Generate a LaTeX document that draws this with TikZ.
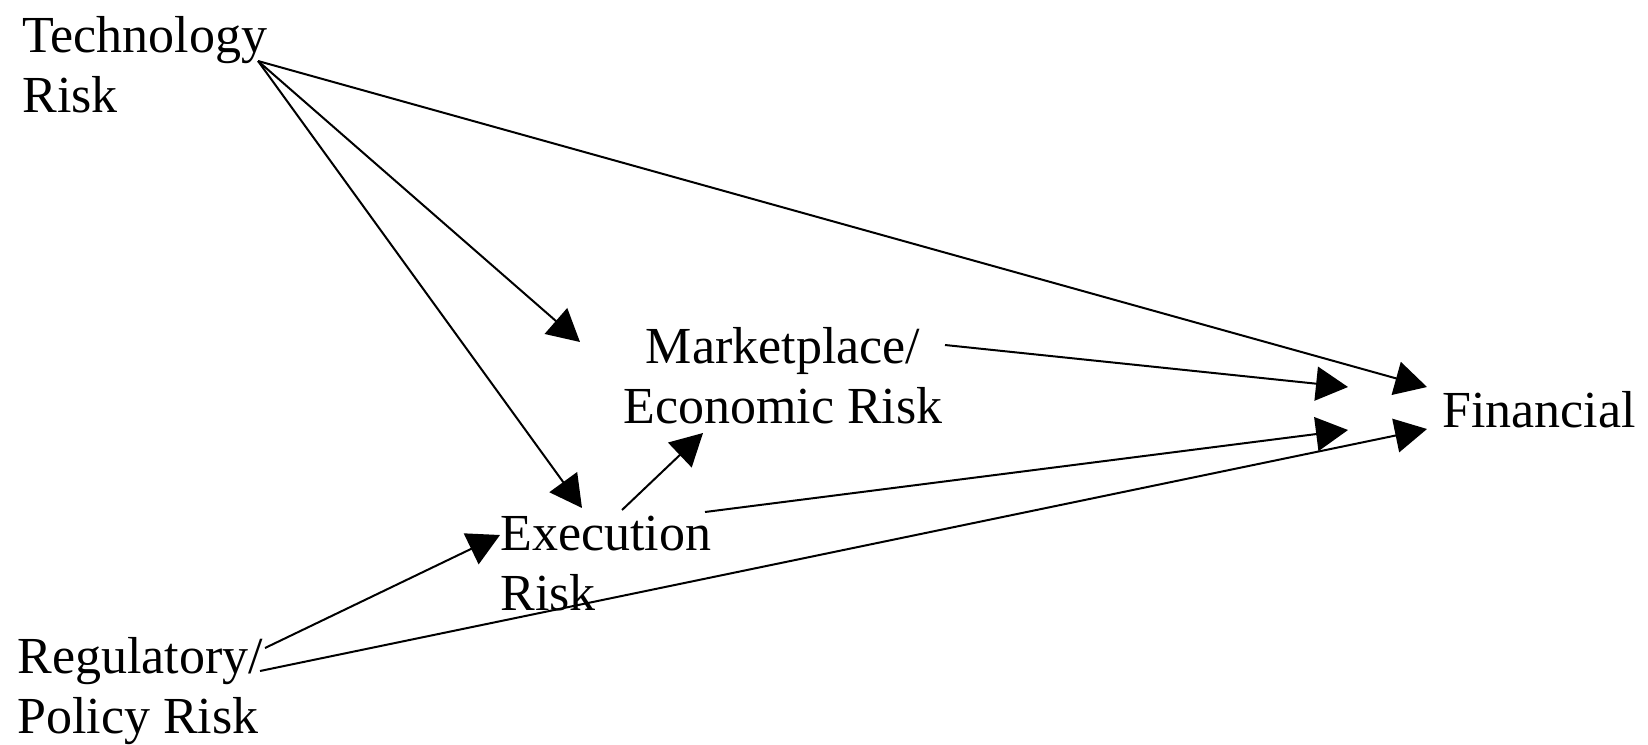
\documentclass[tikz,border=0pt]{standalone}
\usepackage{fontspec}
\setmainfont{Liberation Serif}
\usetikzlibrary{arrows.meta}
\tikzset{
  lbl/.style={inner sep=0pt, font=\fontsize{26pt}{30pt}\selectfont},
  arr/.style={line width=1pt, -{Triangle[length=16pt,width=17pt]}},
}
\begin{document}
\begin{tikzpicture}[x=0.5pt,y=-0.5pt]
\useasboundingbox (0,0) rectangle (1648,744);
% nodes
\node[lbl, anchor=base west] (tech) at (22,52) {\begin{tabular}[t]{@{}l@{}}Technology\\Risk\end{tabular}};
\node[lbl, anchor=base] (mkt) at (783,363) {\begin{tabular}[t]{@{}c@{}}Marketplace/\\Economic Risk\end{tabular}};
\node[lbl, anchor=base west] (fin) at (1442,427) {Financial};
\node[lbl, anchor=base west] (exe) at (500,550) {\begin{tabular}[t]{@{}l@{}}Execution\\Risk\end{tabular}};
\node[lbl, anchor=base west] (reg) at (17,673) {\begin{tabular}[t]{@{}l@{}}Regulatory/\\Policy Risk\end{tabular}};
% connector ends
\coordinate (techout) at (258,61);
\coordinate (mktout) at (945,345);
\coordinate (exeoutm) at (622,510);
\coordinate (exeoutf) at (705,512);
\coordinate (regoute) at (265,648);
\coordinate (regoutf) at (260,671);
\coordinate (fintecht) at (1427,387);
\coordinate (finmkt) at (1348,387);
\coordinate (finexe) at (1348,430);
\coordinate (finreg) at (1427,429);
\coordinate (mkttech) at (580,342);
\coordinate (mktexe) at (703,433);
\coordinate (exetech) at (582,508);
\coordinate (exereg) at (500,535);
% connectors
\draw[arr] (techout) -- (fintecht);
\draw[arr] (techout) -- (mkttech);
\draw[arr] (techout) -- (exetech);
\draw[arr] (mktout) -- (finmkt);
\draw[arr] (exeoutm) -- (mktexe);
\draw[arr] (exeoutf) -- (finexe);
\draw[arr] (regoute) -- (exereg);
\draw[arr] (regoutf) -- (finreg);
\end{tikzpicture}
\end{document}
